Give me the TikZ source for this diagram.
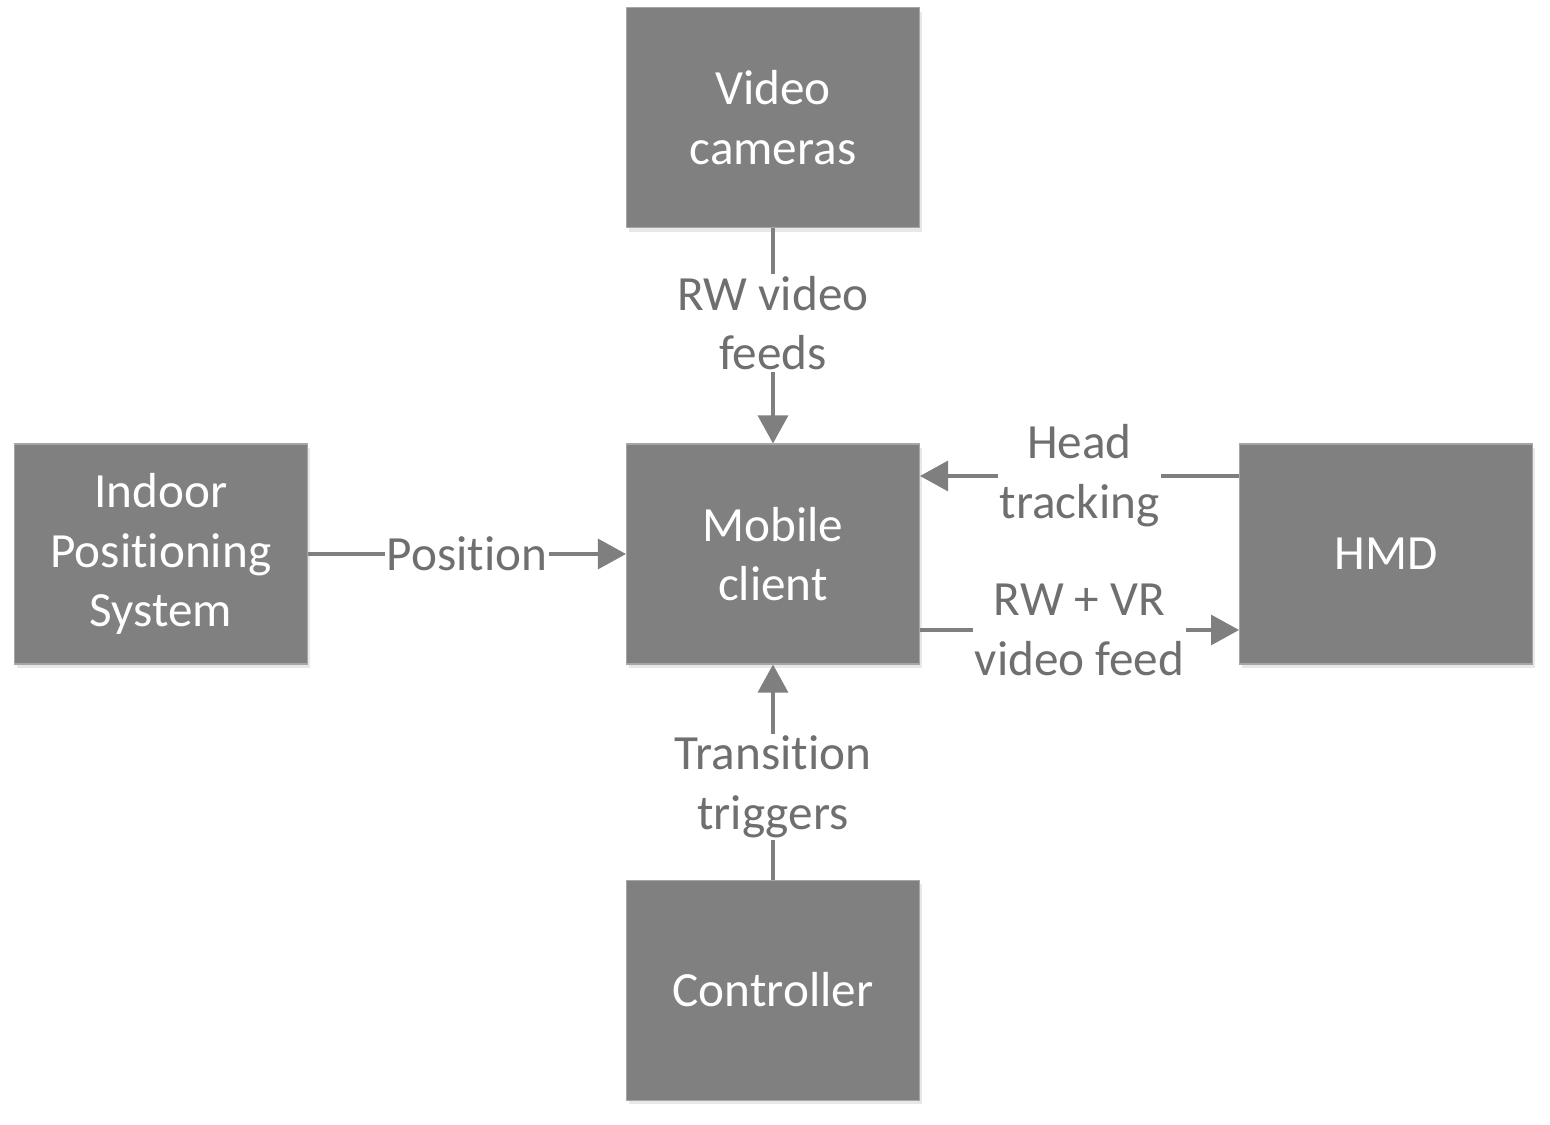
\documentclass[tikz,border=0pt]{standalone}
\usepackage{fontspec}
\setmainfont[Ligatures=NoCommon]{Carlito}
\usetikzlibrary{positioning,arrows.meta,shadows}
\definecolor{boxgray}{HTML}{808080}
\definecolor{boxedge}{HTML}{A6A6A6}
\definecolor{linegray}{HTML}{7F7F7F}
\definecolor{textgray}{HTML}{6F6F6F}
\tikzset{
  block/.style={draw=boxedge, line width=0.6pt, fill=boxgray, minimum width=5.86cm, minimum height=4.4cm,
    text=white, align=center, font=\fontsize{28}{34}\selectfont,
    drop shadow={opacity=0.18, shadow xshift=0.05cm, shadow yshift=-0.08cm}},
  flow/.style={draw=linegray, line width=1.8pt, -{Triangle[length=0.56cm,width=0.6cm]}},
  lbl/.style={fill=white, text=textgray, align=center, inner sep=1pt, font=\fontsize{28}{34}\selectfont},
}
\begin{document}
\begin{tikzpicture}
% Frame
    \useasboundingbox (-15.46,-11.42) rectangle (15.54,11.08);
% Blocks
    \node[block] (mobile) at (0,0) {Mobile\\client};
    \node[block, above=4.30cm of mobile] (video) {Video\\cameras};
    \node[block, left=6.36cm of mobile] (ips) {Indoor\\Positioning\\System};
    \node[block, right=6.38cm of mobile] (hmd) {HMD};
    \node[block, below=4.30cm of mobile] (ctrl) {Controller};
% Flows
    \draw[flow] (video) -- node[lbl, pos=0.44] {RW video\\feeds} (mobile);
    \draw[flow] (ips) -- node[lbl] {Position} (mobile);
    \draw[flow] ([yshift=1.56cm]hmd.west) -- node[lbl] {Head\\tracking} ([yshift=1.56cm]mobile.east);
    \draw[flow] ([yshift=-1.52cm]mobile.east) -- node[lbl] {RW + VR\\video feed} ([yshift=-1.52cm]hmd.west);
    \draw[flow] (ctrl) -- node[lbl, pos=0.43] {Transition\\triggers} (mobile);
\end{tikzpicture}
\end{document}
